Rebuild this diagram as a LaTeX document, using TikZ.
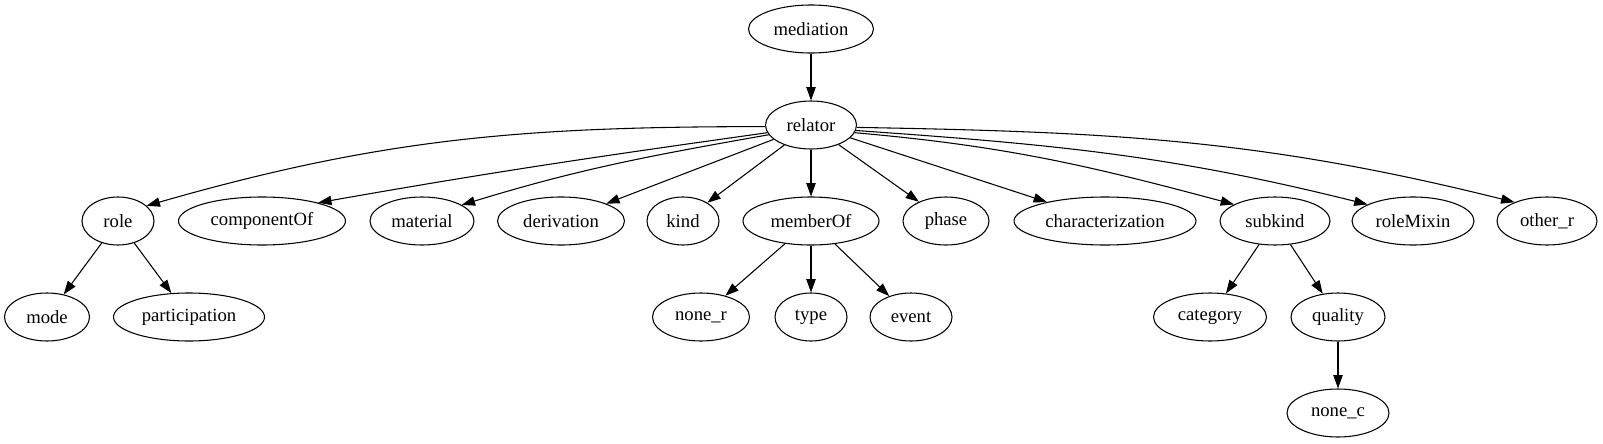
\documentclass[tikz,border=0pt]{standalone}
\usepackage{fontspec}
\setmainfont{Liberation Serif}
\usetikzlibrary{shapes.geometric,arrows.meta}

\begin{document}
\begin{tikzpicture}[x=0.75pt,y=0.75pt,
    ent/.style={ellipse,draw,line width=0.8pt,inner sep=2pt,minimum height=36pt,
      minimum width=#1,font=\fontsize{14}{16}\selectfont},
    arr/.style={->,line width=0.8pt},
    >={Triangle[length=10pt,width=7pt]}]
        \useasboundingbox (0,0) rectangle (1603,-443);
        \node [ent=93.75pt] (med) at (811,-29) {mediation};
        \node [ent=68.25pt] (rel) at (811,-125) {relator};

        \node [ent=54pt] (role) at (118,-221) {role};
        \node [ent=125.25pt] (comp) at (262,-221) {componentOf};
        \node [ent=78pt] (mat) at (422,-221) {material};
        \node [ent=95.25pt] (der) at (561,-221) {derivation};
        \node [ent=54pt] (kind) at (683,-221) {kind};
        \node [ent=102pt] (memb) at (811,-221) {memberOf};
        \node [ent=64.5pt] (phase) at (946,-221) {phase};
        \node [ent=136.5pt] (char) at (1105,-221) {characterization};
        \node [ent=82.5pt] (sub) at (1275,-221) {subkind};
        \node [ent=91.5pt] (rmix) at (1413,-221) {roleMixin};
        \node [ent=75pt] (othr) at (1547,-221) {other\_r};

        \node [ent=63.75pt] (mode) at (47,-317) {mode};
        \node [ent=113.25pt] (part) at (189,-317) {participation};
        \node [ent=72.75pt] (noner) at (701,-317) {none\_r};
        \node [ent=54pt] (type) at (811,-317) {type};
        \node [ent=61.5pt] (event) at (911,-317) {event};
        \node [ent=84.75pt] (cat) at (1210,-317) {category};
        \node [ent=70.5pt] (qual) at (1338,-317) {quality};
        \node [ent=76.5pt] (nonec) at (1338,-413) {none\_c};

        \draw[arr] (med) -- (rel);
        % curved ones out of relator
        \draw[arr] (rel.182) to[out=180,in=16] (role.28);
        \draw[arr] (rel.190) to[out=188,in=10] (comp.18);
        \draw[arr] (rel.193) to[out=190,in=17] (mat.22);
        \draw[arr] (rel.-10) to[out=-5,in=165] (sub.158);
        \draw[arr] (rel.-7) to[out=-4,in=166] (rmix.160);
        \draw[arr] (rel.-3) to[out=-1,in=166] (othr.150);
        % straight ones
        \draw[arr] (rel) -- (der);
        \draw[arr] (rel) -- (kind);
        \draw[arr] (rel) -- (memb);
        \draw[arr] (rel) -- (phase);
        \draw[arr] (rel) -- (char);

        \draw[arr] (role) -- (mode);
        \draw[arr] (role) -- (part);
        \draw[arr] (memb) -- (noner);
        \draw[arr] (memb) -- (type);
        \draw[arr] (memb) -- (event);
        \draw[arr] (sub) -- (cat);
        \draw[arr] (sub) -- (qual);
        \draw[arr] (qual) -- (nonec);
    \end{tikzpicture}
\end{document}
